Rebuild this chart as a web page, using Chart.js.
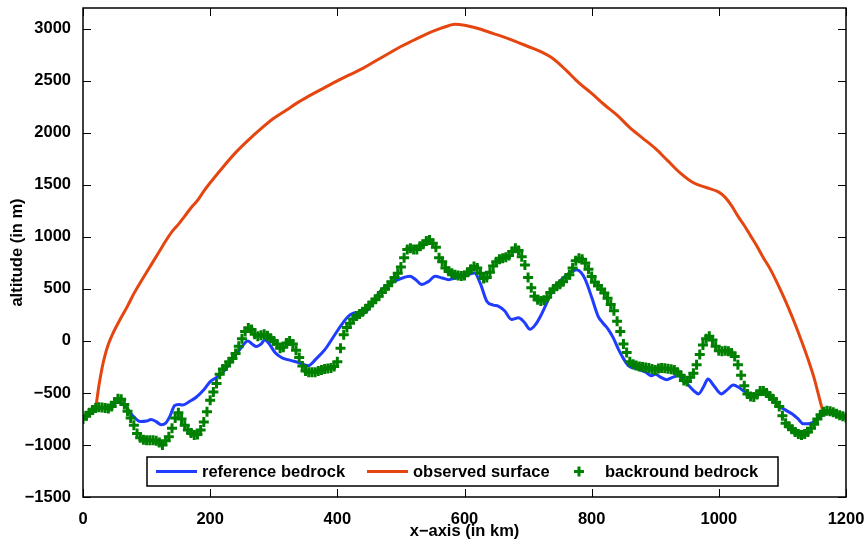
<!DOCTYPE html>
<html>
<head>
<meta charset="utf-8">
<script src="https://cdn.jsdelivr.net/npm/chart.js@4.4.1/dist/chart.umd.min.js"></script>
<style>
  body { margin: 0; background: #fff; }
  #wrap { width: 865px; height: 545px; }
</style>
</head>
<body>
<div id="wrap"><canvas id="profileChart" width="865" height="545"></canvas></div>
<script>
const X_TICKS = [0, 200, 400, 600, 800, 1000, 1200];
const Y_TICKS = [-1500, -1000, -500, 0, 500, 1000, 1500, 2000, 2500, 3000];

// observed surface (km, m)
const surfaceKm = [20, 25, 30, 35, 40, 45, 50, 60, 70, 80, 90, 100, 110, 120, 130, 140, 150, 160, 170, 180, 190, 200,
  220, 240, 260, 280, 300, 320, 340, 360, 380, 400, 420, 440, 460, 480, 500, 520, 540, 560, 575, 585, 600,
  620, 640, 660, 680, 700, 720, 740, 760, 780, 800, 820, 840, 860, 880, 900, 920, 940, 960, 980, 1000,
  1010, 1020, 1030, 1040, 1050, 1060, 1070, 1080, 1090, 1100, 1110, 1120, 1130, 1140, 1150, 1156, 1162, 1166];
const surfaceAlt = [-650, -430, -260, -130, -30, 45, 110, 225, 335, 455, 560, 660, 760, 860, 960, 1050, 1120, 1200, 1280, 1350, 1440, 1520,
  1670, 1810, 1930, 2040, 2140, 2220, 2300, 2370, 2435, 2500, 2560, 2620, 2690, 2760, 2830, 2890, 2950, 3000, 3030, 3045, 3035,
  3005, 2965, 2925, 2880, 2830, 2780, 2710, 2600, 2480, 2380, 2270, 2170, 2050, 1950, 1850, 1730, 1610, 1520, 1475, 1430,
  1380, 1300, 1200, 1110, 1010, 910, 800, 700, 580, 450, 310, 160, 0, -170, -360, -500, -640, -720];

// reference bedrock (km, m)
const refBedKm = [0, 10, 20, 30, 42, 55, 65, 78, 90, 100, 107, 115, 123, 130, 137, 144, 150, 157, 168, 178, 190, 199,
  210, 220, 230, 241, 250, 259, 266, 273, 280, 286, 293, 302, 312, 325, 339, 354, 367, 381, 394, 407, 418, 428,
  443, 456, 470, 483, 496, 514, 523, 533, 543, 554, 565, 575, 586, 596, 606, 616, 625, 635, 645, 653, 663, 674,
  685, 694, 703, 712, 721, 737, 748, 758, 768, 776, 783, 790, 800, 810, 818, 826, 834, 842, 850, 858, 873, 885,
  894, 900, 909, 918, 927, 936, 944, 952, 960, 968, 976, 983, 991, 1004, 1013, 1023, 1031, 1038, 1047, 1057, 1065,
  1072, 1083, 1094, 1105, 1115, 1124, 1133, 1141, 1149, 1159, 1170, 1180, 1190, 1200];
const refBedAlt = [-750, -700, -660, -645, -630, -590, -615, -716, -775, -770, -755, -775, -806, -790, -720, -621, -610, -615, -580, -541, -470, -398,
  -350, -302, -220, -127, -55, 0, -30, -54, -30, 10, -30, -111, -159, -185, -207, -239, -170, -79, 40, 159, 240, 271,
  271, 380, 494, 550, 589, 621, 590, 542, 570, 621, 605, 589, 605, 621, 640, 653, 550, 382, 345, 335, 290, 207,
  223, 180, 112, 160, 255, 462, 560, 621, 665, 685, 660, 589, 420, 239, 170, 112, 30, -79, -170, -239, -270, -300,
  -334, -320, -350, -372, -350, -334, -370, -423, -475, -509, -440, -366, -420, -509, -470, -423, -445, -477, -505, -525, -510,
  -493, -550, -621, -665, -700, -745, -796, -795, -780, -732, -690, -700, -720, -745];

// backround bedrock, one value every 5 km from 0 to 1200
const BG_STEP_KM = 5;
const bgBedAlt = [
  -750, -720, -690, -665, -645, -637, -640, -645, -650, -630,   // 0-45
  -590, -555, -560, -610, -675, -740, -810, -890, -930, -950,   // 50-95
  -955, -955, -955, -960, -975, -1000, -960, -920, -840, -740,  // 100-145
  -690, -750, -810, -855, -885, -905, -900, -855, -780, -680,   // 150-195
  -570, -490, -410, -320, -270, -240, -200, -170, -120, -50,    // 200-245
  20, 90, 125, 110, 65, 45, 55, 65, 50, 25,                     // 250-295
  0, -30, -70, -60, -20, 0, -30, -90, -160, -240,               // 300-345
  -290, -300, -300, -300, -290, -280, -270, -265, -260, -245,   // 350-395
  -200, -70, 60, 130, 170, 210, 240, 260, 280, 310,             // 400-445
  340, 370, 400, 430, 465, 500, 530, 570, 610, 650,             // 450-495
  710, 800, 880, 890, 880, 880, 910, 930, 960, 970,             // 500-545
  940, 900, 800, 760, 700, 670, 650, 637, 630, 625,             // 550-595
  630, 660, 690, 715, 700, 650, 600, 610, 660, 720,             // 600-645
  760, 785, 795, 805, 820, 860, 890, 870, 810, 730,             // 650-695
  610, 510, 430, 395, 385, 390, 420, 465, 500, 525,             // 700-745
  545, 570, 605, 635, 700, 770, 795, 785, 750, 690,             // 750-795
  620, 565, 530, 500, 460, 410, 350, 290, 190, 90,              // 800-845
  -30, -110, -200, -225, -235, -245, -250, -255, -260, -270,    // 850-895
  -280, -265, -260, -262, -268, -272, -280, -300, -330, -380,   // 900-945
  -390, -350, -310, -230, -130, -40, 20, 45, 10, -50,           // 950-995
  -95, -100, -95, -100, -115, -150, -230, -330, -430, -510,     // 1000-1045
  -535, -540, -515, -480, -480, -500, -530, -555, -590, -630,   // 1050-1095
  -720, -790, -820, -850, -875, -895, -905, -895, -875, -840,   // 1100-1145
  -800, -750, -710, -680, -670, -675, -685, -700, -715, -725,   // 1150-1195
  -735                                                          // 1200
];

const BLUE = '#1f3cff';
const ORANGE = '#e5460f';
const GREEN = '#008000';
const FONT = '"Liberation Sans", Arial, Helvetica, sans-serif';
const FONT_SIZE = 16.5;
const TICK_LEN = 8;

function toPoints(xs, ys) {
  return ys.map((y, i) => ({ x: xs[i], y }));
}

function fmtTick(v) {
  return v < 0 ? '\u2212' + Math.abs(v) : String(v);
}

const bgBedKm = bgBedAlt.map((_, i) => i * BG_STEP_KM);

// matlab style box: frame, inward ticks on all sides, legend inside the axes
const frameAndLegend = {
  id: 'frameAndLegend',
  afterDraw(chart) {
    const { ctx, chartArea: a, scales: { x, y } } = chart;
    ctx.save();
    ctx.strokeStyle = '#000';
    ctx.lineWidth = 1;
    ctx.beginPath();
    X_TICKS.forEach(v => {
      const px = Math.round(x.getPixelForValue(v)) + 0.5;
      ctx.moveTo(px, a.bottom);
      ctx.lineTo(px, a.bottom - TICK_LEN);
      ctx.moveTo(px, a.top);
      ctx.lineTo(px, a.top + TICK_LEN);
    });
    Y_TICKS.forEach(v => {
      const py = Math.round(y.getPixelForValue(v)) + 0.5;
      ctx.moveTo(a.left, py);
      ctx.lineTo(a.left + TICK_LEN, py);
      ctx.moveTo(a.right, py);
      ctx.lineTo(a.right - TICK_LEN, py);
    });
    ctx.stroke();

    ctx.lineWidth = 1.5;
    ctx.strokeRect(a.left, a.top, a.right - a.left, a.bottom - a.top);

    // legend box
    const boxL = a.left + 64, boxR = a.left + 695;
    const boxT = a.bottom - 40, boxB = a.bottom - 11;
    const midY = (boxT + boxB) / 2;
    ctx.fillStyle = '#fff';
    ctx.fillRect(boxL, boxT, boxR - boxL, boxB - boxT);
    ctx.lineWidth = 1.5;
    ctx.strokeStyle = '#000';
    ctx.strokeRect(boxL, boxT, boxR - boxL, boxB - boxT);

    ctx.font = 'bold ' + FONT_SIZE + 'px ' + FONT;
    ctx.textBaseline = 'middle';
    ctx.textAlign = 'left';
    ctx.fillStyle = '#000';

    const items = [
      { ds: chart.data.datasets[1], x0: boxL + 9, kind: 'line' },
      { ds: chart.data.datasets[2], x0: boxL + 220, kind: 'line' },
      { ds: chart.data.datasets[0], x0: boxL + 419, kind: 'cross' }
    ];
    items.forEach(it => {
      ctx.strokeStyle = it.ds.borderColor;
      if (it.kind === 'line') {
        ctx.lineWidth = 3;
        ctx.beginPath();
        ctx.moveTo(it.x0, midY);
        ctx.lineTo(it.x0 + 41, midY);
        ctx.stroke();
        ctx.fillText(it.ds.label, it.x0 + 46, midY + 1);
      } else {
        const cx = it.x0 + 13;
        ctx.lineWidth = 3;
        ctx.beginPath();
        ctx.moveTo(cx - 5, midY);
        ctx.lineTo(cx + 5, midY);
        ctx.moveTo(cx, midY - 5);
        ctx.lineTo(cx, midY + 5);
        ctx.stroke();
        ctx.fillText(it.ds.label, it.x0 + 39, midY + 1);
      }
    });
    ctx.restore();
  }
};

const ctx = document.getElementById('profileChart').getContext('2d');
new Chart(ctx, {
  type: 'scatter',
  data: {
    datasets: [
      {
        label: 'backround bedrock',
        data: toPoints(bgBedKm, bgBedAlt),
        showLine: false,
        pointStyle: 'cross',
        pointRadius: 5,
        pointBorderWidth: 3,
        borderColor: GREEN,
        backgroundColor: GREEN,
        pointBorderColor: GREEN,
        order: 0
      },
      {
        label: 'reference bedrock',
        data: toPoints(refBedKm, refBedAlt),
        showLine: true,
        borderColor: BLUE,
        borderWidth: 3,
        pointRadius: 0,
        cubicInterpolationMode: 'monotone',
        order: 1
      },
      {
        label: 'observed surface',
        data: toPoints(surfaceKm, surfaceAlt),
        showLine: true,
        borderColor: ORANGE,
        borderWidth: 3,
        pointRadius: 0,
        cubicInterpolationMode: 'monotone',
        order: 2
      }
    ]
  },
  options: {
    responsive: false,
    animation: false,
    layout: { padding: { top: 5, right: 19, left: 0, bottom: 0 } },
    plugins: {
      legend: { display: false },
      tooltip: { enabled: false }
    },
    scales: {
      x: {
        type: 'linear',
        min: 0,
        max: 1200,
        afterBuildTicks: s => { s.ticks = X_TICKS.map(v => ({ value: v })); },
        afterFit: s => {
          s.height = 48;
          s.paddingLeft = 0;
          s.paddingRight = 0;
        },
        grid: { display: false },
        border: { display: false },
        ticks: {
          color: '#000',
          padding: 5,
          maxRotation: 0,
          font: { family: FONT, size: FONT_SIZE, weight: 'bold' },
          callback: fmtTick
        },
        title: {
          display: true,
          text: 'x\u2212axis (in km)',
          color: '#000',
          padding: { top: 0, bottom: 4 },
          font: { family: FONT, size: FONT_SIZE, weight: 'bold' }
        }
      },
      y: {
        type: 'linear',
        min: -1500,
        max: 3200,
        afterBuildTicks: s => { s.ticks = Y_TICKS.map(v => ({ value: v })); },
        afterFit: s => {
          s.width = 83;
          s.paddingTop = 0;
          s.paddingBottom = 0;
        },
        grid: { display: false },
        border: { display: false },
        ticks: {
          color: '#000',
          padding: 4,
          font: { family: FONT, size: FONT_SIZE, weight: 'bold' },
          callback: fmtTick
        },
        title: {
          display: true,
          text: 'altitude (in m)',
          color: '#000',
          padding: { top: 8, bottom: 0 },
          font: { family: FONT, size: FONT_SIZE, weight: 'bold' }
        }
      }
    }
  },
  plugins: [frameAndLegend]
});
</script>
</body>
</html>
